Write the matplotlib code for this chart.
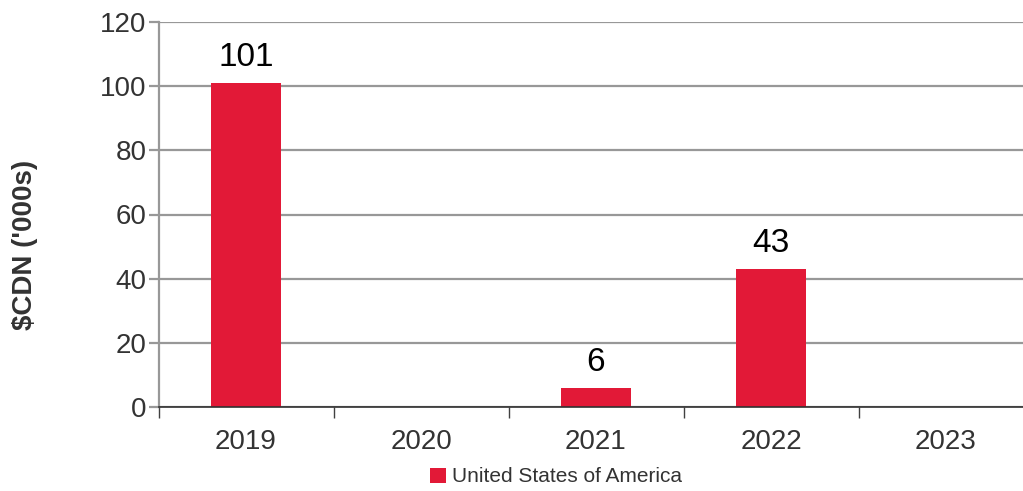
import matplotlib
matplotlib.use("Agg")
import matplotlib.pyplot as plt
from matplotlib.patches import Patch
import numpy as np

plt.rcParams['font.family'] = ['Liberation Sans', 'DejaVu Sans']

years = ["2019", "2020", "2021", "2022", "2023"]
values = [101, 0, 6, 43, 0]
labels = ["101", "", "6", "43", ""]
series_name = "United States of America"
ylabel = "$CDN ('000s)"

red = "#E21937"
text_col = "#333333"

fig = plt.figure(figsize=(10.23, 4.91), dpi=100)
ax = fig.add_axes([158.5/1023, 1-407/491, 875/1023, (407-22)/491])

x = np.arange(len(years))
bars = ax.bar(x, values, width=0.4, color=red, zorder=3)
for xi, v, lab in zip(x, values, labels):
    if lab:
        ax.annotate(lab, (xi, v), xytext=(0, 7), textcoords="offset points",
                    ha="center", va="bottom", fontsize=24, color="black")

ax.set_xlim(-0.5, len(years) - 0.5)
ax.set_ylim(0, 120)
ax.set_yticks(range(0, 121, 20))
ax.yaxis.grid(True, color="#989898", linewidth=1.6, zorder=0)
ax.set_axisbelow(True)

ax.set_xticks(np.arange(-0.5, len(years), 1.0))
ax.set_xticklabels([])
ax.set_xticks(x, minor=True)
ax.set_xticklabels(years, minor=True)
ax.tick_params(axis='x', which='major', length=8, width=1, color="#404040", direction='out')
ax.tick_params(axis='x', which='minor', length=0, pad=16, labelsize=20, labelcolor=text_col)
ax.tick_params(axis='y', length=7, width=1.6, color="#989898", labelsize=20, labelcolor=text_col, pad=1.5)

for s in ["top", "right"]:
    ax.spines[s].set_visible(False)
ax.spines["left"].set_color("#989898")
ax.spines["left"].set_linewidth(1.6)
ax.spines["bottom"].set_color("#303030")
ax.spines["bottom"].set_linewidth(1.2)
ax.spines["bottom"].set_zorder(4)

fig.text(25/1023, 1-245/491, ylabel, rotation=90, ha="center", va="center",
         fontsize=20, fontweight="bold", color=text_col)

handle = Patch(facecolor=red, edgecolor="none")
fig.legend([handle], [series_name], loc="center", bbox_to_anchor=(556/1023, 1-477/491),
           frameon=False, fontsize=15, handlelength=0.75, handleheight=0.75,
           handletextpad=0.3, labelcolor=text_col)

fig.savefig("out.png", dpi=100)
